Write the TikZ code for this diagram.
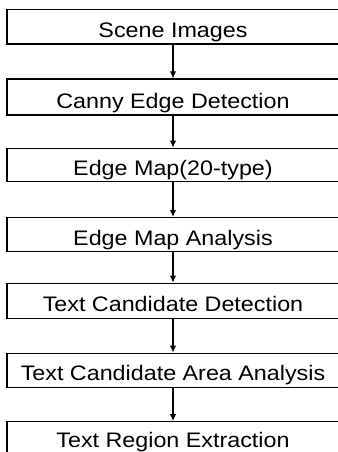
\documentclass[tikz,border=0pt]{standalone}
\usepackage{fontspec}
\setmainfont{Liberation Sans}[FakeStretch=1.11]
\usetikzlibrary{arrows.meta,calc}
\tikzset{
  stagebox/.style={draw=black, line width=1.2pt, rectangle, inner sep=0pt,
    minimum width=332pt},
  stagetext/.style={anchor=base, inner sep=0pt, font=\fontsize{21pt}{24pt}\selectfont},
  flow/.style={draw=black, line width=1.4pt,
    -{Latex[length=7pt,width=6.5pt]}, shorten <=0pt, shorten >=0pt},
}
\begin{document}
\begin{tikzpicture}[x=1pt,y=-1pt]
  \useasboundingbox (0,0) rectangle (337,452);
  % stage boxes: centre x = 173, each given by its top and bottom edge
  \node[stagebox, minimum height=34.5pt] (b1) at (173,26.75)  {};
  \node[stagebox, minimum height=36pt]   (b2) at (173,97)     {};
  \node[stagebox, minimum height=33.4pt] (b3) at (173,165)    {};
  \node[stagebox, minimum height=34pt]   (b4) at (173,234.7)  {};
  \node[stagebox, minimum height=35pt]   (b5) at (173,300.8)  {};
  \node[stagebox, minimum height=34pt]   (b6) at (173,370.3)  {};
  \node[stagebox, minimum height=34.3pt] (b7) at (173,438.85) {};
  % labels sit on a baseline about 7pt above each box's lower edge
  \node[stagetext] (t1) at ($(b1.south)+(0,-7.3)$) {Scene Images};
  \node[stagetext] (t2) at ($(b2.south)+(0,-7.3)$) {Canny Edge Detection};
  \node[stagetext] (t3) at ($(b3.south)+(0,-7.3)$) {Edge Map(20-type)};
  \node[stagetext] (t4) at ($(b4.south)+(0,-7.3)$) {Edge Map Analysis};
  \node[stagetext] (t5) at ($(b5.south)+(0,-7.3)$) {Text Candidate Detection};
  \node[stagetext] (t6) at ($(b6.south)+(0,-7.3)$) {Text Candidate Area Analysis};
  \node[stagetext] (t7) at ($(b7.south)+(0,-8.8)$) {Text Region Extraction};
  % connectors between consecutive stages
  \foreach \a/\b in {b1/b2,b2/b3,b3/b4,b4/b5,b5/b6,b6/b7}
    \draw[flow] (\a.south) -- (\b.north);
\end{tikzpicture}
\end{document}
